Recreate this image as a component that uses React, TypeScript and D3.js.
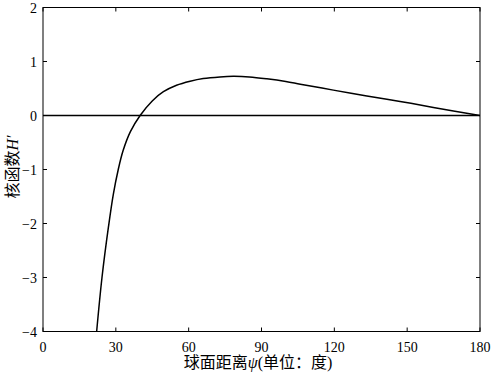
import React from "react";
import * as d3 from "d3";

const degrees = [22.1, 24.3, 27, 29, 31, 33, 36, 40, 45, 49.6, 55, 60.6, 66, 72.9, 78.4, 85, 92.2, 100, 106, 119.6, 133.4, 147.1, 160.8, 180];
const kernel = [-4, -3, -2.05, -1.45, -1.0, -0.65, -0.3, 0, 0.27, 0.44, 0.56, 0.635, 0.685, 0.715, 0.725, 0.715, 0.68, 0.63, 0.58, 0.47, 0.36, 0.26, 0.15, 0];
const xTicks = [0, 30, 60, 90, 120, 150, 180];
const yTicks = [2, 1, 0, -1, -2, -3, -4];

const W = 491, H = 374;
const left = 43, right = 480, top = 7.5, bottom = 331.5;
const font = "'Liberation Serif', 'Times New Roman', 'Noto Sans CJK SC', serif";

export default function App() {
  const x = d3.scaleLinear().domain([0, 180]).range([left, right]);
  const y = d3.scaleLinear().domain([-4, 2]).range([bottom, top]);
  const pts = degrees.map((d, i) => [d, kernel[i]] as [number, number]);
  const line = d3.line<[number, number]>().x(d => x(d[0])).y(d => y(d[1])).curve(d3.curveCatmullRom.alpha(0.5));
  const tl = 4;
  return (
    <svg width={W} height={H} style={{ position: "absolute", left: 0, top: 0, background: "#fff" }}>
      <rect x={0} y={0} width={W} height={H} fill="#fff" />
      <defs>
        <clipPath id="plotclip">
          <rect x={left} y={top} width={right - left} height={bottom - top} />
        </clipPath>
      </defs>
      <line x1={left} x2={right} y1={y(0)} y2={y(0)} stroke="#000" strokeWidth={1.6} />
      <path d={line(pts) || ""} fill="none" stroke="#000" strokeWidth={1.5} clipPath="url(#plotclip)" />
      <rect x={left} y={top} width={right - left} height={bottom - top} fill="none" stroke="#000" strokeWidth={1} />
      {xTicks.map(t => (
        <g key={"x" + t}>
          <line x1={x(t)} x2={x(t)} y1={bottom} y2={bottom - tl} stroke="#000" />
          <line x1={x(t)} x2={x(t)} y1={top} y2={top + tl} stroke="#000" />
          <text x={x(t)} y={352} textAnchor="middle" fontFamily={font} fontSize={14}>{t}</text>
        </g>
      ))}
      {yTicks.map(t => (
        <g key={"y" + t}>
          <line x1={left} x2={left + tl} y1={y(t)} y2={y(t)} stroke="#000" />
          <line x1={right} x2={right - tl} y1={y(t)} y2={y(t)} stroke="#000" />
          <text x={37} y={y(t) + 5} textAnchor="end" fontFamily={font} fontSize={14}>{t < 0 ? "\u2212" + Math.abs(t) : String(t)}</text>
        </g>
      ))}
      <text x={258} y={368} textAnchor="middle" fontFamily={font} fontSize={16}>
        球面距离<tspan fontStyle="italic">ψ</tspan>(单位：度)
      </text>
      <text transform={`translate(18,${167}) rotate(-90)`} textAnchor="middle" fontFamily={font} fontSize={16}>
        核函数<tspan fontStyle="italic">H′</tspan>
      </text>
    </svg>
  );
}
